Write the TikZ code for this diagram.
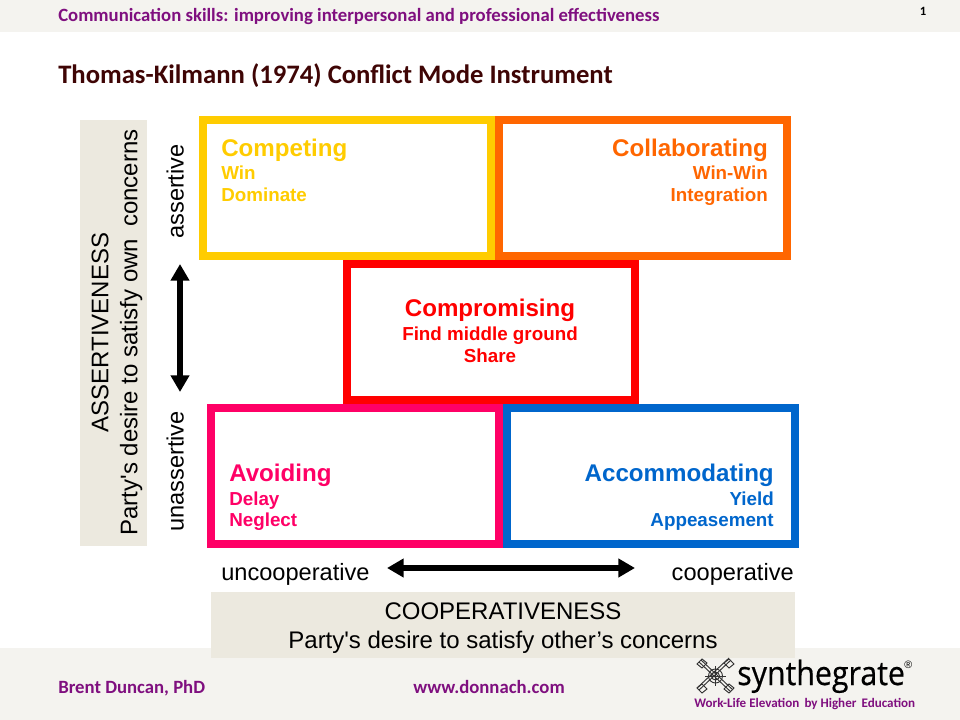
\documentclass[tikz,border=0pt]{standalone}
\usepackage{fontspec}
\setmainfont{Liberation Sans}
\newfontfamily\plainf{Liberation Sans}
\newfontfamily\carl{Carlito}
\newfontfamily\logofnt[FakeBold=0.5]{Open Sans}
\usetikzlibrary{arrows.meta}
\definecolor{band}{HTML}{F4F3EF}
\definecolor{beige}{HTML}{ECE9DF}
\definecolor{purp}{HTML}{7F0F7F}
\definecolor{titlec}{HTML}{3F0505}
\definecolor{cYel}{HTML}{FFCC00}
\definecolor{cOra}{HTML}{FF6600}
\definecolor{cRed}{HTML}{FF0000}
\definecolor{cPnk}{HTML}{FF0066}
\definecolor{cBlu}{HTML}{0066CC}
\tikzset{
 x=0.75pt,y=-0.75pt,
 modebox/.style={draw=#1,line width=6pt,fill=white,line join=miter},
 modehead/.style={text=#1,font=\bfseries\fontsize{18.1}{18.1}\selectfont,inner sep=0pt},
 modetxt/.style={text=#1,font=\bfseries\fontsize{14.1}{16}\selectfont,inner sep=0pt},
 axis/.style={font=\fontsize{17.7}{17.7}\selectfont,inner sep=0pt,text=black},
 big/.style={font=\plainf\fontsize{18}{21.75}\selectfont,inner sep=0pt,text=black,align=center},
 purptxt/.style={text=purp,font=\carl\bfseries\fontsize{14.05}{14.05}\selectfont,inner sep=0pt},
 dbl/.style={line width=4.4pt,{Triangle[width=13.5pt,length=12.5pt]}-{Triangle[width=13.5pt,length=12.5pt]}},
}
\begin{document}
\begin{tikzpicture}
\useasboundingbox (0,0) rectangle (960,720);
\fill[white] (0,0) rectangle (960,720);
\fill[band] (0,0) rectangle (960,32);
\fill[band] (0,648) rectangle (960,720);
\fill[beige] (80,120) rectangle (147,546);
\fill[beige] (211,592) rectangle (795,658);
% header
\node[purptxt,anchor=base west] (hdr) at (58,22) {Communication skills: improving interpersonal and professional effectiveness};
\node[anchor=base,inner sep=0pt,font=\carl\bfseries\fontsize{9.5}{9.5}\selectfont] (pg) at (923,16) {1};
\node[anchor=base west,inner sep=0pt,text=titlec,font=\carl\bfseries\fontsize{20}{20}\selectfont] (ttl) at (58,83.5) {Thomas-Kilmann (1974) Conflict Mode Instrument};
% boxes
\draw[modebox=cPnk] (211,408) rectangle (499,544);
\draw[modebox=cBlu] (507,408) rectangle (795,544);
\draw[modebox=cRed] (347,264) rectangle (635,400);
\draw[modebox=cYel] (203,120) rectangle (491,256);
\draw[modebox=cOra] (499,120) rectangle (787,256);
% texts
\node[modehead=cYel,anchor=base west] (h1) at (221,157) {Competing};
\node[modetxt=cYel,anchor=north west,align=left] (t1) at (221,166) {Win\\Dominate};
\node[modehead=cOra,anchor=base east] (h2) at (768,157) {Collaborating};
\node[modetxt=cOra,anchor=north east,align=right] (t2) at (768,166) {Win-Win\\Integration};
\node[modehead=cRed,anchor=base] (h3) at (490,316) {Compromising};
\node[modetxt=cRed,anchor=north,align=center] (t3) at (490,327) {Find middle ground\\Share};
\node[modehead=cPnk,anchor=base west] (h4) at (229,481) {Avoiding};
\node[modetxt=cPnk,anchor=north west,align=left] (t4) at (229,491.5) {Delay\\Neglect};
\node[modehead=cBlu,anchor=base east] (h5) at (774,481) {Accommodating};
\node[modetxt=cBlu,anchor=north east,align=right] (t5) at (774,491.5) {Yield\\Appeasement};
% axes
\node[axis,rotate=90,anchor=base] (as) at (183.5,191.5) {assertive};
\node[axis,rotate=90,anchor=base] (un) at (183.5,471.5) {unassertive};
\coordinate (va) at (180,264);
\coordinate (vb) at (180,392);
\draw[dbl] (va) -- (vb);
\node[axis,anchor=base west] (uc) at (221,580) {uncooperative};
\node[axis,anchor=base east] (co) at (794,580) {cooperative};
\coordinate (ha) at (387,568);
\coordinate (hb) at (635,568);
\draw[dbl] (ha) -- (hb);
\node[big,rotate=90,anchor=center] (asr) at (117,332.5) {ASSERTIVENESS\\Party's desire to satisfy own\,\,\,concerns};
\node[big] (cop) at (503,628.5) {COOPERATIVENESS\\Party's desire to satisfy other’s concerns};
% footer
\node[purptxt,anchor=base west] (f1) at (58,693) {Brent Duncan, PhD};
\node[purptxt,anchor=base west] (f2) at (413,693) {www.donnach.com};
% logo icon
\begin{scope}[line width=0.7pt,draw=black!80]
\draw (699,662) -- (731,692) (701,660) -- (733,690) (731,660) -- (699,690) (729,658) -- (697,688);
\draw (697,664) -- (702,659) -- (707,663) -- (702,668) -- cycle;
\draw (734,664) -- (729,659) -- (724,663) -- (729,668) -- cycle;
\draw (697,688) -- (702,693) -- (707,689) -- (702,684) -- cycle;
\draw (734,688) -- (729,693) -- (724,689) -- (729,684) -- cycle;
\draw (715.5,676) circle (7) (715.5,676) circle (4);
\draw (705,676) -- (726,676) (715.5,666) -- (715.5,686);
\end{scope}
\node[anchor=base west,inner sep=0pt,xscale=0.91,font=\logofnt\fontsize{25}{25}\selectfont,text=black] (lg) at (737,685) {synthegrate};
\node[anchor=base west,inner sep=0pt,font=\plainf\fontsize{8}{8}\selectfont,text=black] (rg) at (904,668) {®};
\node[anchor=base west,inner sep=0pt,text=purp,font=\carl\bfseries\fontsize{9.8}{9.8}\selectfont] (tag) at (694,707) {Work-Life Elevation\, by Higher\, Education};
\end{tikzpicture}
\end{document}
